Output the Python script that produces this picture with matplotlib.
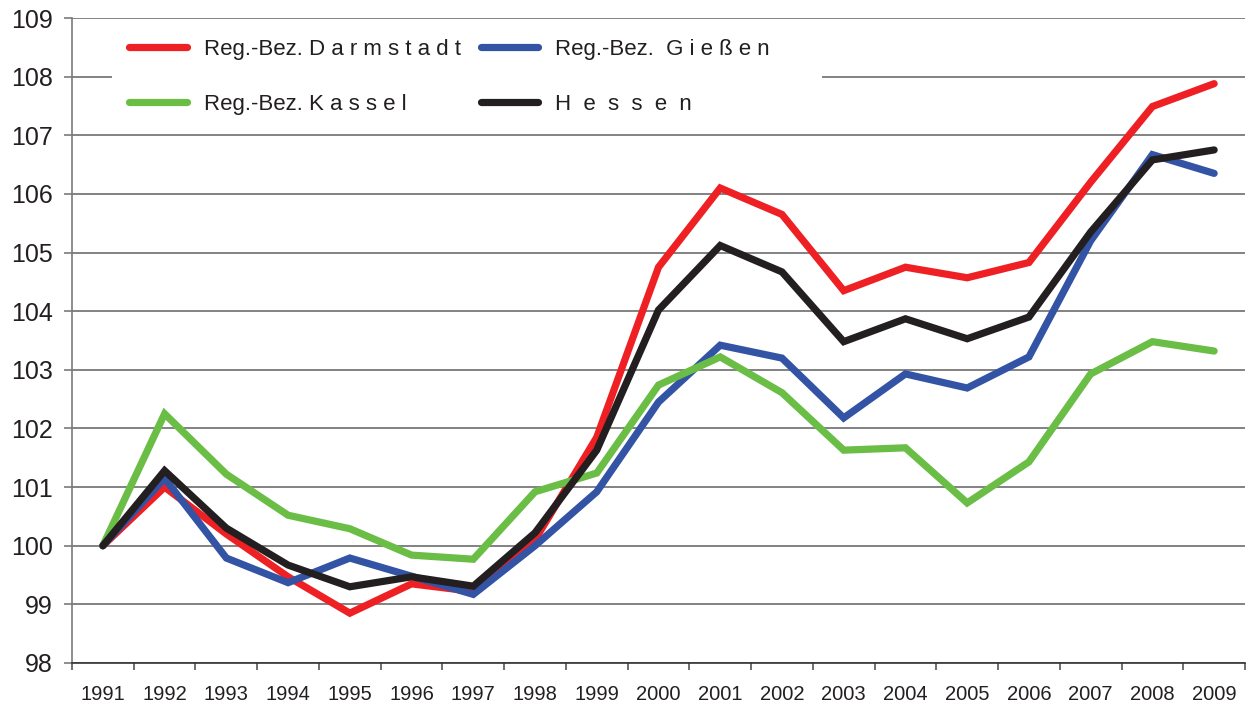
import matplotlib
matplotlib.use("Agg")
import matplotlib.pyplot as plt
from matplotlib.patches import Rectangle
import numpy as np

plt.rcParams["font.family"] = ["Liberation Sans", "DejaVu Sans"]

years = [str(y) for y in range(1991, 2010)]

darmstadt = [100.0, 101.0, 100.2, 99.47, 98.85, 99.35, 99.22, 100.1, 101.85, 104.75,
             106.1, 105.65, 104.35, 104.75, 104.57, 104.83, 106.2, 107.49, 107.88]
giessen = [100.0, 101.15, 99.79, 99.37, 99.79, 99.48, 99.17, 100.0, 100.92, 102.45,
           103.42, 103.2, 102.18, 102.93, 102.69, 103.22, 105.2, 106.67, 106.35]
kassel = [100.0, 102.25, 101.22, 100.52, 100.29, 99.84, 99.77, 100.92, 101.24, 102.74,
          103.22, 102.61, 101.63, 101.67, 100.73, 101.43, 102.93, 103.48, 103.32]
hessen = [100.0, 101.28, 100.3, 99.67, 99.3, 99.47, 99.31, 100.22, 101.63, 104.02,
          105.12, 104.67, 103.48, 103.87, 103.53, 103.9, 105.35, 106.58, 106.75]

labels = ["Reg.-Bez. D a r m s t a d t", "Reg.-Bez.  G i e ß e n",
          "Reg.-Bez. K a s s e l", "H  e  s  s  e  n"]
colors = ["#ee2024", "#3353a4", "#6abd45", "#231f20"]

fig = plt.figure(figsize=(12.48, 7.06), dpi=100)
ax = fig.add_axes([72 / 1248, 1 - 663 / 706, 1173 / 1248, 645 / 706])

x = np.arange(len(years))
handles = []
for vals, lab, col in zip([darmstadt, giessen, kassel, hessen], labels, colors):
    (h,) = ax.plot(x, vals, color=col, lw=5.2, solid_capstyle="round",
                   solid_joinstyle="miter", label=lab, zorder=3)
    handles.append(h)

ax.set_xlim(-0.5, len(years) - 0.5)
ax.set_ylim(98, 109)
ax.set_yticks(range(98, 110))
ax.set_xticks(x)
ax.set_xticklabels(years)
ax.set_xticks(np.arange(-0.5, len(years)), minor=True)

ax.grid(axis="y", color="#6d6d6d", lw=1.2)
ax.set_axisbelow(True)
for s in ["top", "right"]:
    ax.spines[s].set_visible(False)
ax.spines["left"].set_color("#7a7a7a")
ax.spines["left"].set_linewidth(1.2)
ax.spines["bottom"].set_color("#333333")
ax.spines["bottom"].set_linewidth(1.2)

ax.tick_params(axis="y", labelsize=18, length=6, width=1.2, color="#7a7a7a",
               pad=8, labelcolor="#231f20")
ax.tick_params(axis="x", which="major", labelsize=14.5, length=0, pad=16,
               labelcolor="#231f20")
ax.tick_params(axis="x", which="minor", length=5, width=1.2, color="#555555")

# white box behind the legend, hides the 108 grid line
ax.add_patch(Rectangle((0.0341, 0.826), 0.6053, 0.168, transform=ax.transAxes,
                       facecolor="white", edgecolor="none", zorder=2))

# legend order: row-major in the picture, matplotlib fills column-major
order = [0, 2, 1, 3]
leg = ax.legend([handles[i] for i in order], [labels[i] for i in order],
                ncol=2, loc="upper left", bbox_to_anchor=(0.034, 0.994),
                frameon=False, fontsize=16, handlelength=2.6, handletextpad=0.75,
                columnspacing=0.9, labelspacing=1.52, borderpad=0.78,
                borderaxespad=0)
for t in leg.get_texts():
    t.set_color("#231f20")

fig.savefig("out.png", dpi=100)
